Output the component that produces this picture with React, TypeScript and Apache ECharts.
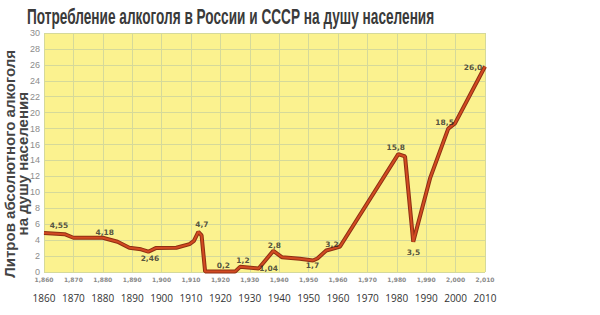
import React, { useEffect, useRef } from "react";
import * as echarts from "echarts";

const title = "Потребление алкоголя в России и СССР на душу населения";
const yNameLines = ["Литров абсолютного алкоголя", "на душу населения"];

const years = [1860, 1867, 1870, 1880, 1885, 1889, 1893, 1895.5, 1898, 1905, 1909.5, 1911, 1912.5, 1913.6, 1914.8, 1925, 1926.7, 1933, 1938, 1941, 1947, 1951.5, 1953, 1956, 1959, 1960.7, 1980.5, 1982.8, 1985.6, 1991.3, 1997.5, 1999.8, 2010];
const values = [4.9, 4.75, 4.3, 4.3, 3.8, 3.05, 2.85, 2.55, 3.0, 3.05, 3.5, 3.9, 5.05, 4.6, 0.05, 0.05, 0.65, 0.45, 2.65, 1.85, 1.65, 1.45, 1.7, 2.7, 3.0, 3.2, 14.8, 14.5, 3.8, 11.75, 18.0, 18.65, 25.8];

const labelYears = [1860, 1880, 1895, 1912, 1920, 1927, 1933, 1938, 1952, 1960, 1985, 1980, 2000, 2010];
const labelValues = [4.55, 4.18, 2.46, 4.7, 0.2, 1.2, 1.04, 2.8, 1.7, 3.2, 3.5, 15.8, 18.5, 26.0];
const labelTexts = ["4,55", "4,18", "2,46", "4,7", "0,2", "1,2", "1,04", "2,8", "1,7", "3,2", "3,5", "15,8", "18,5", "26,0"];
const labelOffsets = [[15, -10], [2, -6], [3, 6], [5, -10], [3, -5], [2, -2], [10, 5], [1, -4], [-2, 7], [-6, -2], [2, 8], [-1, 1], [-11, -2], [-12, 3]];

const decadeLabels = ["1860", "1870", "1880", "1890", "1900", "1910", "1920", "1930", "1940", "1950", "1960", "1970", "1980", "1990", "2000", "2010"];

export default function App() {
  const ref = useRef<HTMLDivElement>(null);
  useEffect(() => {
    if (!ref.current) return;
    const chart = echarts.init(ref.current, null, { renderer: "svg" });
    const lineData = years.map((y, i) => [y, values[i]]);
    const labelData = labelYears.map((y, i) => ({
      value: [y, labelValues[i]],
      label: { offset: labelOffsets[i], formatter: labelTexts[i] },
    }));
    chart.setOption({
      animation: false,
      backgroundColor: "#ffffff",
      graphic: [
        {
          type: "text",
          left: 27,
          top: 5,
          scaleX: 0.62,
          style: {
            text: title,
            font: "bold 22px 'Liberation Sans'",
            fill: "#3a3a3a",
          },
        },
        {
          type: "text",
          left: 2,
          top: 50,
          rotation: Math.PI / 2,
          style: {
            text: yNameLines[0],
            font: "bold 15px 'Liberation Sans'",
            fill: "#444444",
          },
        },
        {
          type: "text",
          left: 15,
          top: 92,
          rotation: Math.PI / 2,
          style: {
            text: yNameLines[1],
            font: "bold 15px 'Liberation Sans'",
            fill: "#444444",
          },
        },
      ],
      grid: {
        left: 44,
        right: 115,
        top: 33,
        bottom: 43,
        show: true,
        backgroundColor: "#fbf28f",
        borderWidth: 0,
      },
      xAxis: [
        {
          type: "value",
          min: 1860,
          max: 2010,
          interval: 10,
          axisLine: { show: false },
          axisTick: { show: false },
          splitLine: { show: true, lineStyle: { color: "#d5d99a", width: 1 } },
          axisLabel: {
            fontSize: 6,
            color: "#8a8a8a",
            margin: 4,
            fontFamily: "DejaVu Sans",
            fontWeight: "bold",
          },
        },
        {
          type: "category",
          data: decadeLabels,
          boundaryGap: false,
          position: "bottom",
          offset: 17,
          axisLine: { show: false },
          axisTick: { show: false },
          splitLine: { show: false },
          axisLabel: {
            fontSize: 10,
            color: "#333333",
            margin: 4,
            fontFamily: "Open Sans",
            interval: 0,
          },
        },
      ],
      yAxis: {
        type: "value",
        min: 0,
        max: 30,
        interval: 2,
        axisLine: { show: false },
        axisTick: { show: false },
        splitLine: { show: true, lineStyle: { color: "#d5d99a", width: 1 } },
        axisLabel: {
          fontSize: 9,
          color: "#8c8c8c",
          margin: 4,
          fontFamily: "Liberation Sans",
        },
      },
      series: [
        {
          type: "line",
          data: lineData,
          symbol: "none",
          lineStyle: { color: "#8e2f12", width: 4 },
          z: 2,
        },
        {
          type: "line",
          data: lineData,
          symbol: "none",
          lineStyle: { color: "#d24a22", width: 2 },
          z: 3,
        },
        {
          type: "scatter",
          data: labelData,
          symbolSize: 0,
          z: 4,
          label: {
            show: true,
            position: "inside",
            fontSize: 7.5,
            fontWeight: "bold",
            fontFamily: "DejaVu Sans",
            color: "#2a2a2a",
          },
        },
      ],
    });
    return () => chart.dispose();
  }, []);
  return <div ref={ref} style={{ width: 600, height: 315, position: "absolute", left: 0, top: 0 }} />;
}
